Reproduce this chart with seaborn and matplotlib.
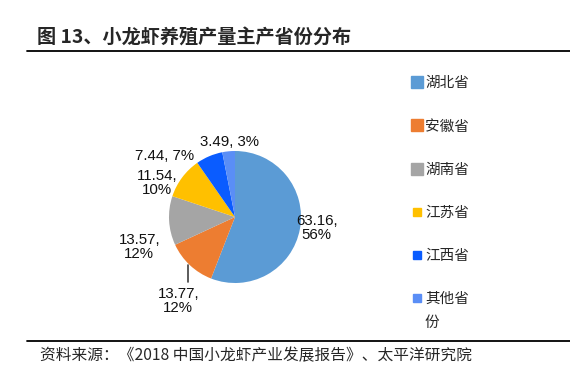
import matplotlib
matplotlib.use("Agg")
import matplotlib.pyplot as plt
import seaborn as sns
from matplotlib.lines import Line2D

# data
provinces = ["湖北省", "安徽省", "湖南省", "江苏省", "江西省", "其他省"]
wrap_tail = "份"  # second line of the last legend label
output = [63.16, 13.77, 13.57, 11.54, 7.44, 3.49]
shares = ["56%", "12%", "12%", "10%", "7%", "3%"]
colors = ["#5B9BD5", "#ED7D31", "#A5A5A5", "#FFC000", "#0A5CFF", "#5A8EF6"]

sns.set_theme(style="white")
plt.rcParams["font.family"] = ["Noto Sans CJK SC", "DejaVu Sans"]

fig = plt.figure(figsize=(5.7, 3.9), dpi=100)

# pie axes: centre ~ (235, 217) px, radius ~66 px
half = 66 * 1.9
ax = fig.add_axes([(235 - half) / 570, (390 - 217 - half) / 390,
                   2 * half / 570, 2 * half / 390])
ax.pie(output, colors=colors, startangle=90, counterclock=False,
       radius=1.0, wedgeprops=dict(linewidth=0))
ax.set_xlim(-1.9, 1.9)
ax.set_ylim(-1.9, 1.9)
ax.set_aspect("equal")
ax.axis("off")

# label text and positions (pie units)
label_text = [f"{v:.2f},\n{s}" for v, s in zip(output, shares)]
label_text[4] = f"{output[4]:.2f}, {shares[4]}"
label_text[5] = f"{output[5]:.2f}, {shares[5]}"
label_pos = [(1.24, -0.17), (-0.86, -1.27), (-1.45, -0.45),
             (-1.18, 0.52), (-1.06, 0.92), (-0.08, 1.13)]
for txt, (x, y) in zip(label_text, label_pos):
    ax.text(x, y, txt, ha="center", va="center", fontsize=10.8,
            family=["Liberation Sans", "DejaVu Sans"], color="#111111",
            linespacing=1.0)
# leader line for Anhui
ax.plot([-0.71, -0.71], [-0.73, -0.99], color="#404040", lw=1.2)

# legend
handles = []
for i, c in enumerate(colors):
    ms = 8 if i < 3 else 6
    handles.append(Line2D([], [], marker="s", linestyle="none",
                          markersize=ms, markerfacecolor=c, markeredgecolor=c))
fig.legend(handles, provinces, loc="upper left",
           bbox_to_anchor=(405 / 570, 1 - 69 / 390), frameon=False,
           handlelength=0.6, handletextpad=0.3, labelspacing=2.0,
           borderpad=0, fontsize=10.5)
fig.text(424 / 570, 1 - 323 / 390, wrap_tail, fontsize=10.5,
         va="center", ha="left")

# title and rules
fig.text(37 / 570, 1 - 38 / 390, "图 13、小龙虾养殖产量主产省份分布",
         fontsize=13.8, fontweight="bold", va="center", ha="left")
fig.add_artist(Line2D([27 / 570, 1], [1 - 51 / 390] * 2, color="black", lw=1.3))
fig.add_artist(Line2D([27 / 570, 1], [1 - 341 / 390] * 2, color="black", lw=1.3))
fig.text(40 / 570, 1 - 356 / 390,
         "资料来源：《2018 中国小龙虾产业发展报告》、太平洋研究院",
         fontsize=11.3, style="italic", va="center", ha="left")

fig.savefig("out.png", dpi=100)
